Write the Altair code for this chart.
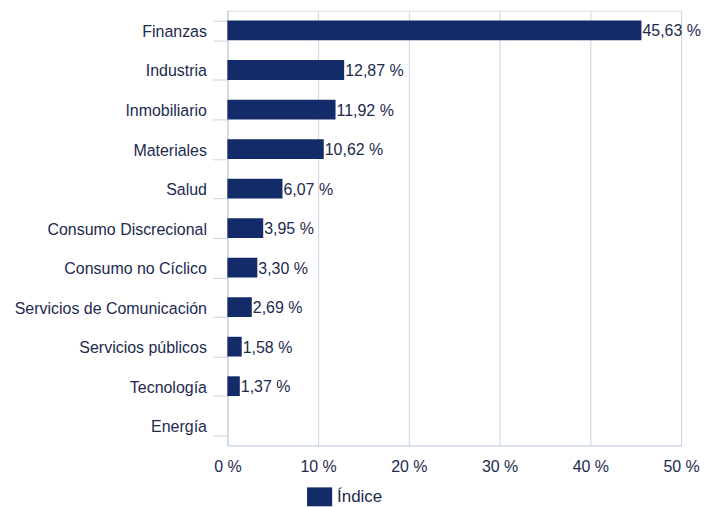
import altair as alt
import pandas as pd

categories = ["Finanzas", "Industria", "Inmobiliario", "Materiales", "Salud",
              "Consumo Discrecional", "Consumo no Cíclico", "Servicios de Comunicación",
              "Servicios públicos", "Tecnología", "Energía"]
values = [45.63, 12.87, 11.92, 10.62, 6.07, 3.95, 3.30, 2.69, 1.58, 1.37, 0.0]
labels = ["45,63 %", "12,87 %", "11,92 %", "10,62 %", "6,07 %", "3,95 %", "3,30 %",
          "2,69 %", "1,58 %", "1,37 %", ""]
series = "Índice"

df = pd.DataFrame({"cat": categories, "val": values, "lab": labels, "serie": [series] * len(categories)})

FONT = "Liberation Sans"
TXT = "#1c2a4e"
BAR = "#132b69"
GRID = "#c9d5e5"

y = alt.Y("cat:N", sort=categories, title=None,
          scale=alt.Scale(paddingInner=0.5, paddingOuter=0.25),
          axis=alt.Axis(tickBand="extent", tickSize=15, tickColor=GRID, domainColor=GRID,
                        labelPadding=6, labelFontSize=16, labelColor=TXT, labelFont=FONT,
                        labelBaseline="middle", labelOffset=1,
                        grid=False, labelLimit=300))
x = alt.X("val:Q", title=None, scale=alt.Scale(domain=[0, 50], nice=False),
          axis=alt.Axis(values=[0, 10, 20, 30, 40, 50], labelExpr="datum.value + ' %'",
                        grid=True, gridColor=GRID, domain=True, domainColor=GRID,
                        labelFlush=False,
                        ticks=False, labelPadding=13, labelFontSize=16, labelColor=TXT,
                        labelFont=FONT))

bars = alt.Chart(df).mark_bar(color=BAR).encode(
    x=x, y=y,
    color=alt.Color("serie:N", scale=alt.Scale(range=[BAR]), title=None,
                    legend=alt.Legend(orient="none", legendX=83, legendY=478,
                                      symbolType="M-1.33,-1H1.33V1H-1.33Z", symbolSize=360,
                                      symbolStrokeWidth=0, labelFontSize=17, labelColor=TXT,
                                      labelFont=FONT, symbolOpacity=1, labelOffset=8))
)
text = alt.Chart(df).mark_text(align="left", baseline="middle", dx=1, dy=1, fontSize=16,
                               color=TXT, font=FONT).encode(
    x="val:Q", y=alt.Y("cat:N", sort=categories), text="lab:N")

chart = (bars + text).properties(
    width=455, height=436,
    autosize=alt.AutoSizeParams(type="none"),
    padding={"left": 220, "top": 2, "right": 30, "bottom": 66},
).configure_view(stroke=None).configure(background="white")

chart.save("out.html", embed_options={"renderer": "svg", "actions": False})
